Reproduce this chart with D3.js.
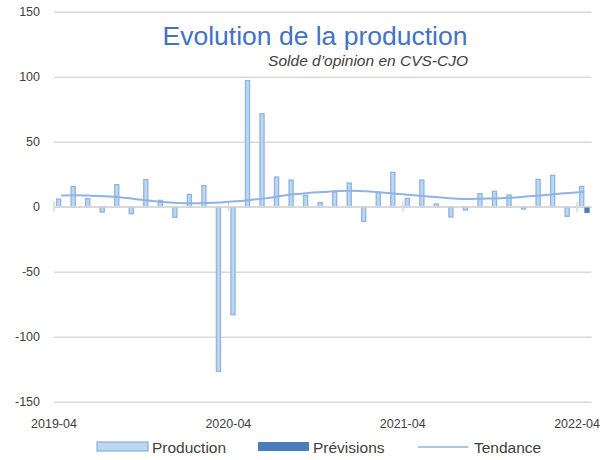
<!DOCTYPE html>
<html>
<head>
<meta charset="utf-8">
<script src="https://cdn.jsdelivr.net/npm/d3@7"></script>
<style>
  body { margin: 0; background: #fff; }
  svg { font-family: "Liberation Sans", Arial, sans-serif; }
</style>
</head>
<body>
<svg id="chart" width="611" height="460"></svg>
<script>
// months on the category axis
let months = ["2019-04","2019-05","2019-06","2019-07","2019-08","2019-09","2019-10","2019-11","2019-12",
  "2020-01","2020-02","2020-03","2020-04","2020-05","2020-06","2020-07","2020-08","2020-09","2020-10","2020-11","2020-12",
  "2021-01","2021-02","2021-03","2021-04","2021-05","2021-06","2021-07","2021-08","2021-09","2021-10","2021-11","2021-12",
  "2022-01","2022-02","2022-03","2022-04"];

let production = [5.9, 15.6, 6.2, -4.1, 16.9, -5.4, 20.8, 4.9, -8.2, 9.5, 16.2, -126.7, -83.1,
  96.9, 71.5, 22.8, 20.5, 8.7, 3.1, 11.3, 18.2, -11.3, 11.3, 26.4, 6.4, 20.5, 2.1, -7.9,
  -2.6, 10, 11.8, 9, -1.8, 21, 24.1, -7.4, 15.6];

let previsions = [{month: "2022-04", value: -4.8}];

let tendance = [8.7, 8.8, 8.5, 8.0, 7.2, 6.0, 4.8, 3.6, 2.9, 2.6, 2.8, 3.3, 4.1, 5.2, 6.4, 8.0,
  9.5, 10.6, 11.3, 12.0, 12.3, 11.8, 11.0, 10.0, 9.0, 8.0, 7.2, 6.4, 6.0, 6.2, 6.4, 6.9,
  7.8, 8.7, 9.7, 10.6, 11.5];

let yTicks = [-150, -100, -50, 0, 50, 100, 150];
let xTickLabels = ["2019-04", "2020-04", "2021-04", "2022-04"];
let seriesNames = ["Production", "Prévisions"];

let svg = d3.select("svg");

let plotLeft = 54, plotRight = 591.6, plotTop = 11.7, plotBottom = 401.7;

let x = d3.scaleBand()
    .domain(months)
    .range([plotLeft, plotRight])
    .paddingInner(0.27)
    .paddingOuter(0.135);

let xSub = d3.scaleBand()
    .domain(seriesNames)
    .range([0, x.bandwidth()]);

let y = d3.scaleLinear()
    .domain([-150, 150])
    .range([plotBottom, plotTop]);

// category boundary of a month (where the ticks sit)
function edge(m) {
  return x(m) - x.step() * x.paddingInner() / 2;
}

// gridlines + y labels
let yAxis = svg.append("g")
    .attr("transform", "translate(" + plotLeft + ",0)")
    .call(d3.axisLeft(y).tickValues(yTicks).tickFormat(function(d) { return String(d); })
      .tickSize(-(plotRight - plotLeft)).tickPadding(14));
yAxis.select(".domain").remove();
yAxis.selectAll(".tick line")
    .attr("stroke", "#d9d9d9")
    .attr("stroke-width", 1.5);
yAxis.selectAll(".tick text")
    .attr("fill", "#404040")
    .style("font-family", "'Liberation Sans', Arial, sans-serif")
    .style("font-size", "12.5px");

// bars
let barsG = svg.append("g");
barsG.selectAll("rect.prod")
  .data(production)
  .enter().append("rect")
    .attr("class", "prod")
    .attr("x", function(d, i) { return x(months[i]) + xSub("Production") + 0.6; })
    .attr("width", xSub.bandwidth() - 1.2)
    .attr("y", function(d) { return y(Math.max(0, d)); })
    .attr("height", function(d) { return Math.abs(y(d) - y(0)); })
    .attr("fill", "#bdd7ee")
    .attr("stroke", "#8eb4e3")
    .attr("stroke-width", 1.3);

barsG.selectAll("rect.prev")
  .data(previsions)
  .enter().append("rect")
    .attr("class", "prev")
    .attr("x", function(d) { return x(d.month) + xSub("Prévisions"); })
    .attr("width", xSub.bandwidth())
    .attr("y", function(d) { return y(Math.max(0, d.value)); })
    .attr("height", function(d) { return Math.abs(y(d.value) - y(0)); })
    .attr("fill", "#4a7ebb");

// zero axis with crossing ticks
svg.append("line")
    .attr("x1", plotLeft).attr("x2", plotRight)
    .attr("y1", y(0)).attr("y2", y(0))
    .attr("stroke", "#d9d9d9")
    .attr("stroke-width", 1.5);
svg.append("g").selectAll("line")
  .data(xTickLabels)
  .enter().append("line")
    .attr("x1", function(d) { return edge(d); })
    .attr("x2", function(d) { return edge(d); })
    .attr("y1", y(0) - 5)
    .attr("y2", y(0) + 5)
    .attr("stroke", "#d9d9d9")
    .attr("stroke-width", 1.5);

// trend line
let line = d3.line()
    .x(function(d, i) { return x(months[i]) + x.bandwidth() / 2; })
    .y(function(d) { return y(d); })
    .curve(d3.curveMonotoneX);
svg.append("path")
    .datum(tendance)
    .attr("d", line)
    .attr("fill", "none")
    .attr("stroke", "#8eb4e3")
    .attr("stroke-width", 2);

// x labels
svg.append("g").selectAll("text")
  .data(xTickLabels)
  .enter().append("text")
    .attr("x", function(d) { return Math.min(edge(d), 611 - 24); })
    .attr("y", 428)
    .attr("text-anchor", "middle")
    .attr("fill", "#404040")
    .style("font-size", "12.5px")
    .text(function(d) { return d; });

// title
svg.append("text")
    .attr("x", 315)
    .attr("y", 45)
    .attr("text-anchor", "middle")
    .attr("fill", "#4472c4")
    .style("font-size", "26.5px")
    .text("Evolution de la production");
svg.append("text")
    .attr("x", 468)
    .attr("y", 66)
    .attr("text-anchor", "end")
    .attr("fill", "#404040")
    .style("font-size", "15.5px")
    .style("font-style", "italic")
    .text("Solde d’opinion en CVS-CJO");

// legend
let legend = svg.append("g").style("font-size", "15.5px");
legend.append("rect")
    .attr("x", 97).attr("y", 442).attr("width", 51).attr("height", 9)
    .attr("fill", "#bdd7ee").attr("stroke", "#8eb4e3").attr("stroke-width", 1.3);
legend.append("text").attr("x", 152).attr("y", 453).attr("fill", "#404040").text("Production");
legend.append("rect")
    .attr("x", 258).attr("y", 442).attr("width", 51).attr("height", 9)
    .attr("fill", "#4a7ebb");
legend.append("text").attr("x", 313).attr("y", 453).attr("fill", "#404040").text("Prévisions");
legend.append("line")
    .attr("x1", 418).attr("x2", 468).attr("y1", 447).attr("y2", 447)
    .attr("stroke", "#8eb4e3").attr("stroke-width", 1.5);
legend.append("text").attr("x", 474).attr("y", 453).attr("fill", "#404040").text("Tendance");
</script>
</body>
</html>
